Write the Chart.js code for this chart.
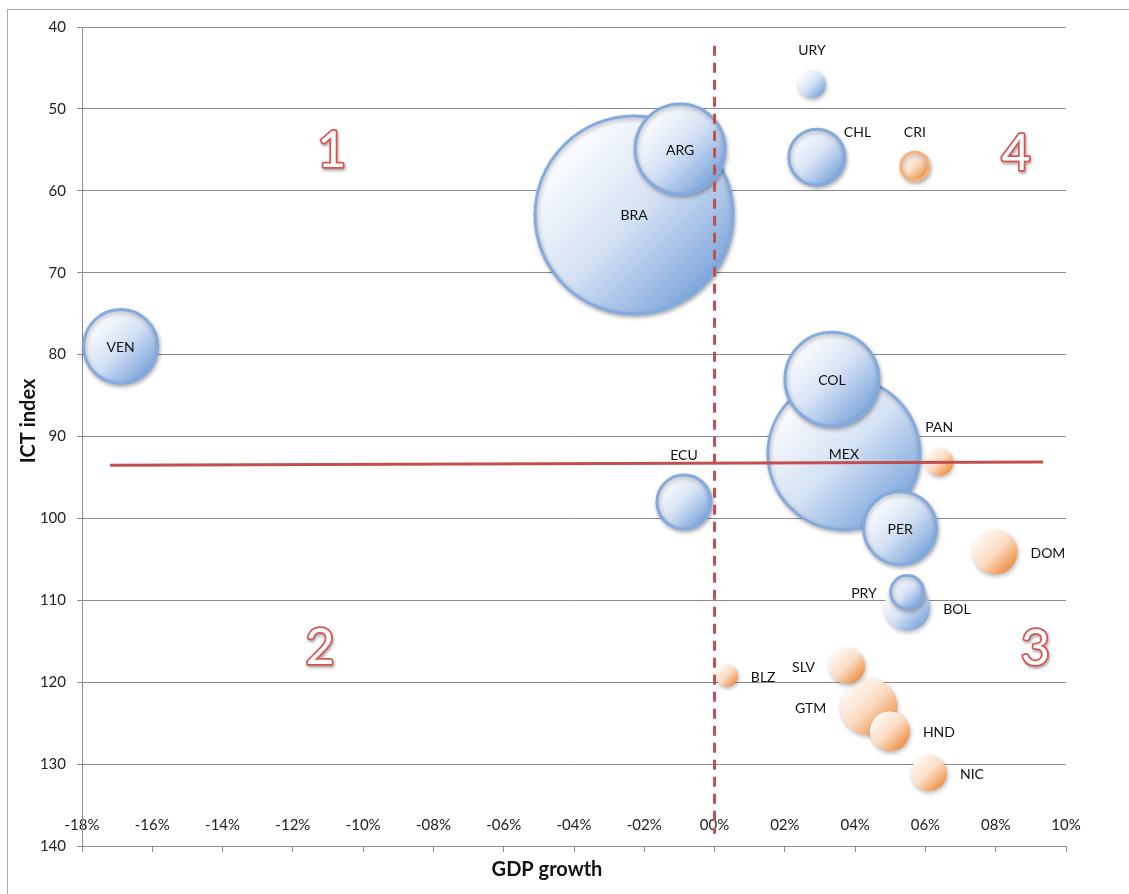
<!DOCTYPE html>
<html>
<head>
<meta charset="utf-8">
<title>ICT index vs GDP growth</title>
<script src="https://cdn.jsdelivr.net/npm/chart.js@4.4.1/dist/chart.umd.min.js"></script>
<style>
  html, body { margin:0; padding:0; background:#fff; overflow:hidden; }
  #frame { position:absolute; left:7px; top:9px; width:1200px; height:1000px; border:1px solid #a9a9a9; }
  #wrap { position:absolute; left:0; top:0; width:1129px; height:894px; }
</style>
</head>
<body>
<div id="frame"></div>
<div id="wrap"><canvas id="chart" width="1129" height="894"></canvas></div>
<script>
// values; biggest bubbles first so the small ones sit on top
const countries  = ['BRA','MEX','COL','ARG','VEN','PER','CHL','GTM','ECU','BOL','DOM','HND','SLV','NIC','PRY','CRI','URY','PAN','BLZ'];
const gdpGrowth  = [-2.29, 3.68, 3.34, -0.98, -16.9, 5.28, 2.91, 4.39, -0.87, 5.48, 7.98, 4.99, 3.77, 6.10, 5.48, 5.70, 2.77, 6.39, 0.35];
const ictIndex   = [62.95, 92.1, 83.0, 54.9, 79.0, 101.2, 55.9, 123.0, 98.0, 110.9, 104.1, 126.0, 118.0, 131.1, 109.0, 57.0, 47.0, 93.1, 119.2];
const bubbleSize = [99, 76, 47, 45, 37, 36.5, 28, 28.5, 27, 23, 22.5, 20, 18, 18, 16.5, 14, 14, 14, 11];
const series     = [1, 1, 1, 1, 1, 1, 1, 2, 1, 1, 2, 2, 2, 2, 1, 2, 1, 2, 2];

// quadrant numbers
const quadrantNames = ['1', '2', '3', '4'];
const quadrantX     = [-10.89, -11.23, 9.13, 8.58];
const quadrantY     = [55.1, 115.8, 115.95, 55.5];

// the two red split lines
const zeroLineX  = [0, 0];
const zeroLineY  = [42.3, 138.5];
const splitLineX = [-17.2, 9.35];
const splitLineY = [93.5, 93.1];

// styling only
const outlined = new Set(['BRA','MEX','COL','ARG','VEN','PER','CHL','ECU','PRY','CRI']);
const labelPos = {
  URY:'above', CRI:'above', PAN:'above', ECU:'above', CHL:'corner',
  DOM:'right', BOL:'right', BLZ:'right', HND:'right', NIC:'right',
  PRY:'left', SLV:'left', GTM:'left'
};
const RED = '#c0504d';

function fmtPct(v){
  const n = Math.round(Math.abs(v));
  return (v < -0.001 ? '-' : '') + String(n).padStart(2, '0') + '%';
}

function bubbleFill(ctx){
  const i = ctx.dataIndex;
  const flat = series[i] === 2 ? '#f7c49c' : '#b9cfee';
  if (ctx.type !== 'data') return flat;
  const chart = ctx.chart;
  const px = chart.scales.x.getPixelForValue(gdpGrowth[i]);
  const py = chart.scales.y.getPixelForValue(ictIndex[i]);
  if (!isFinite(px) || !isFinite(py)) return flat;
  const r = bubbleSize[i];
  const g = chart.ctx.createLinearGradient(px - r*0.75, py - r*0.75, px + r*0.75, py + r*0.75);
  if (series[i] === 1) {
    g.addColorStop(0, '#ffffff');
    g.addColorStop(0.5, '#d5e2f4');
    g.addColorStop(1, '#7aa4dc');
  } else {
    g.addColorStop(0, '#fffaf6');
    g.addColorStop(0.5, '#fbdcc4');
    g.addColorStop(1, '#ee8e40');
  }
  return g;
}

const shadowPlugin = {
  id: 'bubbleShadow',
  beforeDatasetDraw(chart, args){
    if (args.meta.type !== 'bubble') return;
    const c = chart.ctx;
    c.save();
    c.shadowColor = 'rgba(0,0,0,0.28)';
    c.shadowBlur = 4;
    c.shadowOffsetX = 1;
    c.shadowOffsetY = 2;
  },
  afterDatasetDraw(chart, args){
    if (args.meta.type !== 'bubble') return;
    chart.ctx.restore();
  }
};

const textPlugin = {
  id: 'chartText',
  afterDatasetsDraw(chart){
    const c = chart.ctx;
    const sx = chart.scales.x, sy = chart.scales.y;

    // country labels
    const meta = chart.getDatasetMeta(2);
    c.save();
    c.font = '14px Lato';
    c.fillStyle = '#111';
    c.textBaseline = 'middle';
    meta.data.forEach((el, i) => {
      const name = countries[i];
      const r = bubbleSize[i];
      const pos = labelPos[name] || 'center';
      let x = el.x, y = el.y + 1, align = 'center';
      if (pos === 'above') { y = el.y - r - 20; }
      else if (pos === 'right') { x = el.x + r + 13; y = el.y + 1.5; align = 'left'; }
      else if (pos === 'left') { x = el.x - r - 14; y = el.y + 1.5; align = 'right'; }
      else if (pos === 'corner') { x = el.x + r - 1; y = el.y - 25; align = 'left'; }
      c.textAlign = align;
      c.fillText(name, x, y);
    });
    c.restore();

    // quadrant numbers, outlined red
    c.save();
    c.font = '50px Lato';
    c.textAlign = 'center';
    c.textBaseline = 'middle';
    quadrantNames.forEach((q, i) => {
      const x = sx.getPixelForValue(quadrantX[i]);
      const y = sy.getPixelForValue(quadrantY[i]);
      c.shadowColor = 'rgba(0,0,0,0.35)';
      c.shadowBlur = 3;
      c.shadowOffsetX = 1;
      c.shadowOffsetY = 2;
      c.lineWidth = 3.5;
      c.lineJoin = 'round';
      c.strokeStyle = '#d9534f';
      c.strokeText(q, x, y);
      c.shadowColor = 'transparent';
      c.fillStyle = '#ffffff';
      c.fillText(q, x, y);
    });
    c.restore();

    // axis titles
    c.save();
    c.font = 'bold 20px Lato';
    c.fillStyle = '#111';
    c.textAlign = 'center';
    c.textBaseline = 'middle';
    c.fillText('GDP growth', 547, 870);
    c.translate(29, 421);
    c.rotate(-Math.PI / 2);
    c.fillText('ICT index', 0, 0);
    c.restore();
  }
};

const bubblePoints = countries.map((n, i) => ({x: gdpGrowth[i], y: ictIndex[i], r: bubbleSize[i]}));
const zeroLine  = zeroLineX.map((x, i) => ({x, y: zeroLineY[i]}));
const splitLine = splitLineX.map((x, i) => ({x, y: splitLineY[i]}));

new Chart(document.getElementById('chart'), {
  type: 'bubble',
  data: {
    datasets: [
      { type:'line', label:'zero', data: zeroLine, borderColor: RED, borderWidth: 3,
        borderDash: [10, 7], pointRadius: 0, fill: false, clip: false },
      { type:'line', label:'split', data: splitLine, borderColor: RED, borderWidth: 3,
        pointRadius: 0, fill: false, clip: false },
      { label:'countries', data: bubblePoints, clip: false,
        backgroundColor: bubbleFill,
        borderColor: ctx => series[ctx.dataIndex] === 1 ? '#84aadf' : '#f6b27c',
        borderWidth: ctx => outlined.has(countries[ctx.dataIndex]) ? 3 : 0 }
    ]
  },
  options: {
    responsive: false,
    animation: false,
    events: [],
    layout: { autoPadding: false, padding: { left: 0, top: 27, right: 63, bottom: 0 } },
    plugins: { legend: { display: false }, tooltip: { enabled: false } },
    scales: {
      x: {
        type: 'linear', position: 'bottom', min: -18, max: 10,
        afterFit: s => { s.height = 48; },
        // mirrored so the labels sit just above the axis line, like the original
        ticks: { stepSize: 2, mirror: true, padding: 12, color: '#222', font: { family: 'Lato', size: 15 },
                 callback: v => fmtPct(v), maxRotation: 0, autoSkip: false },
        grid: { drawOnChartArea: false, tickLength: 6, color: '#8c8c8c' },
        border: { color: '#8c8c8c', width: 1 }
      },
      y: {
        type: 'linear', reverse: true, min: 40, max: 140,
        afterFit: s => { s.width = 82; },
        ticks: { stepSize: 10, padding: 11, color: '#222', font: { family: 'Lato', size: 15 } },
        grid: { color: '#8c8c8c', lineWidth: 1, tickLength: 5 },
        border: { color: '#8c8c8c', width: 1 }
      }
    }
  },
  plugins: [shadowPlugin, textPlugin]
});
</script>
</body>
</html>
